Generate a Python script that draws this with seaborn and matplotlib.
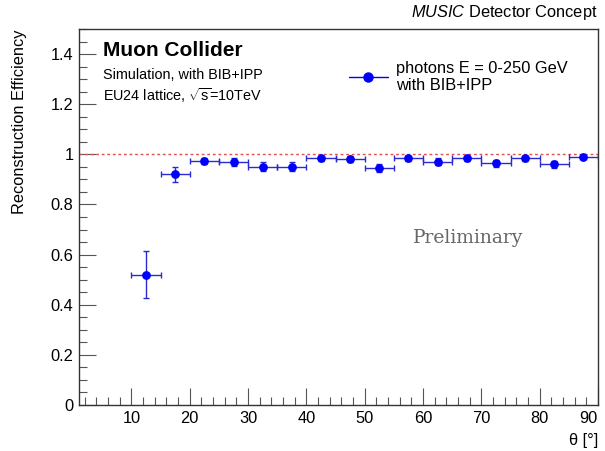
import numpy as np
import pandas as pd
import matplotlib
matplotlib.use("Agg")
import matplotlib.pyplot as plt
from matplotlib.lines import Line2D
from matplotlib.ticker import MultipleLocator
import seaborn as sns

theta = [12.5, 17.5, 22.5, 27.5, 32.5, 37.5, 42.5, 47.5, 52.5, 57.5, 62.5, 67.5, 72.5, 77.5, 82.5, 87.5]
theta_err = [2.5] * 16
efficiency = [0.52, 0.92, 0.975, 0.97, 0.95, 0.95, 0.985, 0.98, 0.945, 0.985, 0.97, 0.985, 0.965, 0.985, 0.96, 0.99]
eff_err = [0.095, 0.03, 0.012, 0.015, 0.018, 0.018, 0.01, 0.012, 0.017, 0.01, 0.014, 0.01, 0.014, 0.01, 0.014, 0.008]
xtick_vals = [10, 20, 30, 40, 50, 60, 70, 80, 90]
ytick_vals = [0, 0.2, 0.4, 0.6, 0.8, 1.0, 1.2, 1.4]
ytick_labels = ['0', '0.2', '0.4', '0.6', '0.8', '1', '1.2', '1.4']

df = pd.DataFrame({"theta": theta, "eff": efficiency})

sns.set_style("ticks")
plt.rcParams['font.family'] = ['Liberation Sans', 'DejaVu Sans']
plt.rcParams['text.color'] = 'black'
plt.rcParams['xtick.labelcolor'] = 'black'
plt.rcParams['ytick.labelcolor'] = 'black'
plt.rcParams['mathtext.fontset'] = 'custom'
plt.rcParams['mathtext.it'] = 'Liberation Sans:italic'
plt.rcParams['mathtext.rm'] = 'Liberation Sans'

fig = plt.figure(figsize=(6.05, 4.51), dpi=100)
ax = fig.add_axes([79/605, 1-405/451, (598-79)/605, (405-29)/451])

ax.axhline(1.0, color='#e05050', linestyle=(0, (2, 2)), linewidth=1.0, zorder=1)
ax.errorbar(theta, efficiency, xerr=theta_err, yerr=eff_err, fmt='none',
            ecolor='#2a2ad0', elinewidth=1.0, capsize=2, capthick=1.0, zorder=2)
sns.scatterplot(data=df, x="theta", y="eff", ax=ax, color='blue', s=40,
                edgecolor='blue', linewidth=0, zorder=3, legend=False)

ax.set_xlim(1, 90)
ax.set_ylim(0, 1.5)
ax.xaxis.set_minor_locator(MultipleLocator(2))
ax.yaxis.set_minor_locator(MultipleLocator(0.05))
ax.set_xticks(xtick_vals)
ax.set_xticklabels([str(v) for v in xtick_vals])
ax.set_yticks(ytick_vals)
ax.set_yticklabels(ytick_labels)
ax.tick_params(axis='both', which='major', direction='in', length=12, width=0.8,
               labelsize=11.8, color='#555555', pad=4)
ax.tick_params(axis='both', which='minor', direction='in', length=6, width=0.8, color='#555555')
ax.get_xticklabels()[-1].set_horizontalalignment('right')
for s in ax.spines.values():
    s.set_linewidth(1.0)
    s.set_color('#333333')

ax.set_xlabel('')
ax.set_ylabel('')
fig.text(598/605, 1-440/451, 'θ [°]', ha='right', va='center', fontsize=11.8)
fig.text(20/605, 1-29/451, 'Reconstruction Efficiency', rotation=90, ha='center',
         va='top', fontsize=11.8)

fig.text(103/605, 1-50/451, 'Muon Collider', fontsize=15, fontweight='bold',
         ha='left', va='center')
fig.text(103/605, 1-75/451, 'Simulation, with BIB+IPP', fontsize=10.4, ha='left', va='center')
fig.text(103/605, 1-96/451, r'EU24 lattice, $\sqrt{\mathrm{s}}$=10TeV', fontsize=10.4,
         ha='left', va='center')

fig.text(598/605, 1-13/451, r'$\mathit{MUSIC}$ Detector Concept', fontsize=11.8,
         ha='right', va='center')

handle = Line2D([], [], color='blue', marker='o', markersize=6.5, linewidth=1.0)
leg = ax.legend([handle], ['photons E = 0-250 GeV\nwith BIB+IPP'], loc='upper left',
                bbox_to_anchor=((342-79)/519, 1-(54-29)/376), frameon=False,
                fontsize=11.8, handlelength=2.4, handletextpad=0.5, borderaxespad=0,
                labelspacing=0.2)

ax.text(468/605, 1-238/451, 'Preliminary', transform=fig.transFigure, fontsize=13.5,
        family='DejaVu Serif', color='#666666', ha='center', va='center')

fig.savefig('out.png', dpi=100)
